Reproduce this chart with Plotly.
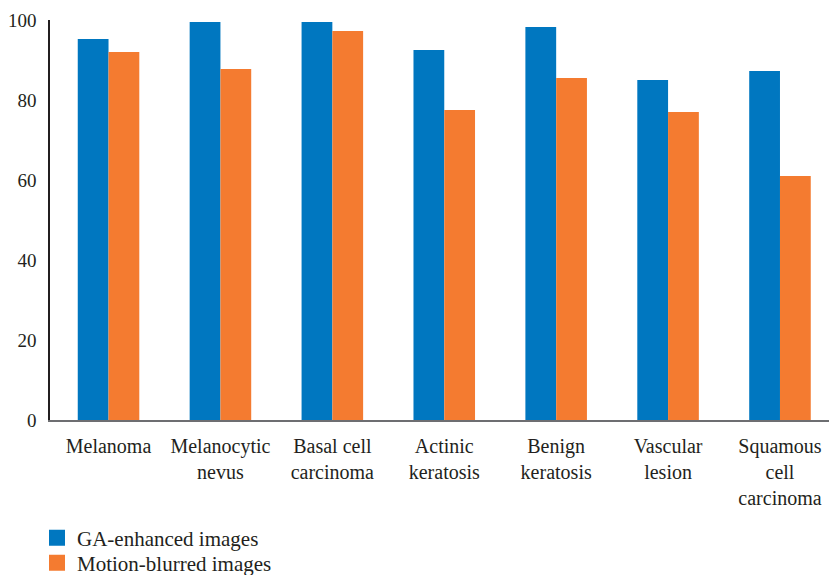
import plotly.graph_objects as go

categories = ["Melanoma", "Melanocytic<br>nevus", "Basal cell<br>carcinoma", "Actinic<br>keratosis",
              "Benign<br>keratosis", "Vascular<br>lesion", "Squamous<br>cell<br>carcinoma"]
ga_enhanced = [95.25, 99.5, 99.5, 92.5, 98.25, 85.0, 87.25]
motion_blurred = [92.0, 87.75, 97.25, 77.5, 85.5, 77.0, 61.0]
series_names = ["GA-enhanced images", "Motion-blurred images"]
y_ticks = [0, 20, 40, 60, 80, 100]

BLUE = "#0077C0"
ORANGE = "#F47B30"
FONT = "Liberation Serif"
TXT = "#231f20"

fig = go.Figure()
for vals, name, col in [(ga_enhanced, series_names[0], BLUE), (motion_blurred, series_names[1], ORANGE)]:
    fig.add_trace(go.Bar(x=categories, y=vals, name=name, marker_color=col,
                         marker_line_width=0, showlegend=False, legendgroup=name))
# legend entries with larger square swatches, one legend box per entry
for name, col, lg in [(series_names[0], BLUE, "legend"), (series_names[1], ORANGE, "legend2")]:
    fig.add_trace(go.Scatter(x=[None], y=[None], mode="markers", name=name, legendgroup=name,
                             marker=dict(symbol="square", size=16, color=col, line_width=0),
                             showlegend=True, hoverinfo="skip", legend=lg))

leg_common = dict(xref="container", yref="container", xanchor="left", yanchor="middle",
                  font=dict(family=FONT, size=21, color=TXT), itemwidth=30,
                  itemsizing="trace", bgcolor="rgba(0,0,0,0)")

fig.update_layout(
    width=829, height=575,
    margin=dict(l=50, r=0, t=20, b=155, autoexpand=False),
    barmode="group", bargap=0.45, bargroupgap=0,
    plot_bgcolor="white", paper_bgcolor="white",
    font=dict(family=FONT, size=20, color=TXT),
    showlegend=True,
    legend=dict(x=37 / 829, y=(575 - 538) / 575, **leg_common),
    legend2=dict(x=37 / 829, y=(575 - 563) / 575, **leg_common),
)
fig.update_xaxes(type="category", range=[-0.523, 6.438], showline=True, linecolor="#6d6e71", linewidth=2,
                 ticks="", showgrid=False, tickfont=dict(family=FONT, size=20, color=TXT), tickangle=0,
                 automargin=False, ticklabelstandoff=7)
fig.update_yaxes(range=[0, 100], tickvals=y_ticks, showline=True, linecolor=TXT, linewidth=1.5,
                 ticks="", showgrid=False, zeroline=False, tickfont=dict(family=FONT, size=19, color=TXT),
                 ticklabelstandoff=8, automargin=False)

fig.write_html("out.html")
